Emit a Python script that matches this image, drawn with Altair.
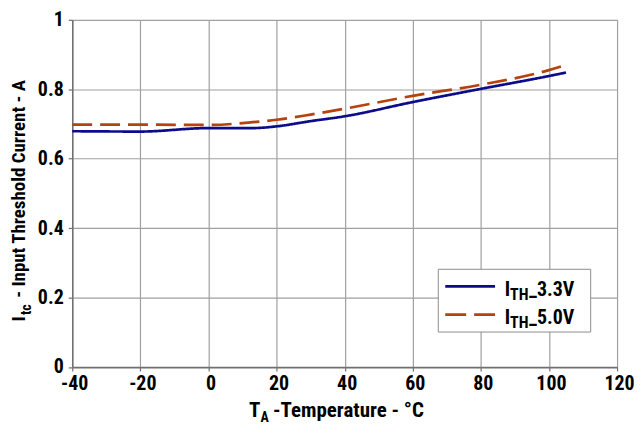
import altair as alt
import pandas as pd

# ---- data ----
temps_c = [-40, -20, 0, 13, 20, 30, 40, 60, 80, 100, 105]
ith_33v = [0.679, 0.678, 0.688, 0.688, 0.693, 0.708, 0.722, 0.763, 0.801, 0.838, 0.848]
ith_50v = [0.698, 0.698, 0.697, 0.705, 0.712, 0.727, 0.744, 0.781, 0.813, 0.855, 0.870]
series_names = ["3.3V", "5.0V"]
series_colors = ["#0C0C8A", "#B4430F"]
x_ticks = [-40, -20, 0, 20, 40, 60, 80, 100, 120]
y_ticks = [0, 0.2, 0.4, 0.6, 0.8, 1]

FONT = "Roboto Condensed, Liberation Sans Narrow, sans-serif"

rows = []
for t, v in zip(temps_c, ith_33v):
    rows.append({"temp": t, "val": v, "series": series_names[0]})
for t, v in zip(temps_c, ith_50v):
    rows.append({"temp": t, "val": v, "series": series_names[1]})
df = pd.DataFrame(rows)
one = pd.DataFrame({"d": [0]})

W, H = 547, 348.5

lines = alt.Chart(df).mark_line(strokeWidth=2.7, interpolate="monotone").encode(
    x=alt.X("temp:Q", scale=alt.Scale(domain=[-40, 120], nice=False),
            axis=alt.Axis(values=x_ticks, title=None, labelPadding=3, labelFlush=False, labelOffset=2,
                          labelExpr="datum.value < 0 ? '-' + abs(datum.value) : '' + datum.value")),
    y=alt.Y("val:Q", scale=alt.Scale(domain=[0, 1], nice=False),
            axis=alt.Axis(values=y_ticks, format="~g", title=None, labelPadding=5, labelFlush=False)),
    color=alt.Color("series:N", scale=alt.Scale(domain=series_names, range=series_colors), legend=None),
    strokeDash=alt.StrokeDash("series:N", scale=alt.Scale(domain=series_names, range=[[1, 0], [20, 8]]), legend=None),
)


def txt(s, x, y, size=20, angle=0):
    return alt.Chart(one).mark_text(
        text=s, font=FONT, fontSize=size, fontWeight="bold", align="left",
        baseline="alphabetic", angle=angle, color="black"
    ).encode(x=alt.value(x), y=alt.value(y))


# axis titles with subscripts
x_title = [
    txt("T", 177.5, 399, size=21),
    txt("A", 189, 404, size=14),
    txt("-Temperature - °C", 201.5, 399, size=21),
]
y_title = [
    txt("I", -47.5, 303, size=19, angle=270),
    txt("tc", -41, 296.5, size=14, angle=270),
    txt("- Input Threshold Current - A", -47.5, 279, size=19, angle=270),
]

# legend
legend_box = alt.Chart(one).mark_rect(fill="white", stroke="#8C8C8C", strokeWidth=1).encode(
    x=alt.value(367.5), x2=alt.value(520.5), y=alt.value(250.5), y2=alt.value(313.5)
)
leg_blue = alt.Chart(one).mark_rule(color=series_colors[0], strokeWidth=2.7).encode(
    x=alt.value(374.5), x2=alt.value(424.5), y=alt.value(267.7)
)
leg_orange = alt.Chart(one).mark_rule(color=series_colors[1], strokeWidth=2.7, strokeDash=[21, 8]).encode(
    x=alt.value(374.5), x2=alt.value(424.5), y=alt.value(296)
)
leg_text = [
    txt("I", 434.2, 277.7),
    txt("TH", 439.5, 281.7, size=16),
    txt("_3.3V", 458.5, 277.7),
    txt("I", 434.2, 305),
    txt("TH", 439.5, 309, size=16),
    txt("_5.0V", 458.5, 305),
]

chart = alt.layer(
    lines, legend_box, leg_blue, leg_orange, *x_title, *y_title, *leg_text
).properties(
    width=W, height=H,
    autosize=alt.AutoSizeParams(type="none"),
    padding={"left": 64.5, "top": 11, "right": 17, "bottom": 60},
).configure_view(
    strokeWidth=0
).configure_axis(
    labelFont=FONT, labelFontSize=20, labelFontWeight="bold", labelColor="black",
    gridColor="#A0A0A0", gridWidth=1.2,
    domainColor="#707070", domainWidth=1.5,
    tickColor="#707070", tickSize=4, tickWidth=1.2,
)

chart.save("out.html", embed_options={"renderer": "svg", "actions": False})
